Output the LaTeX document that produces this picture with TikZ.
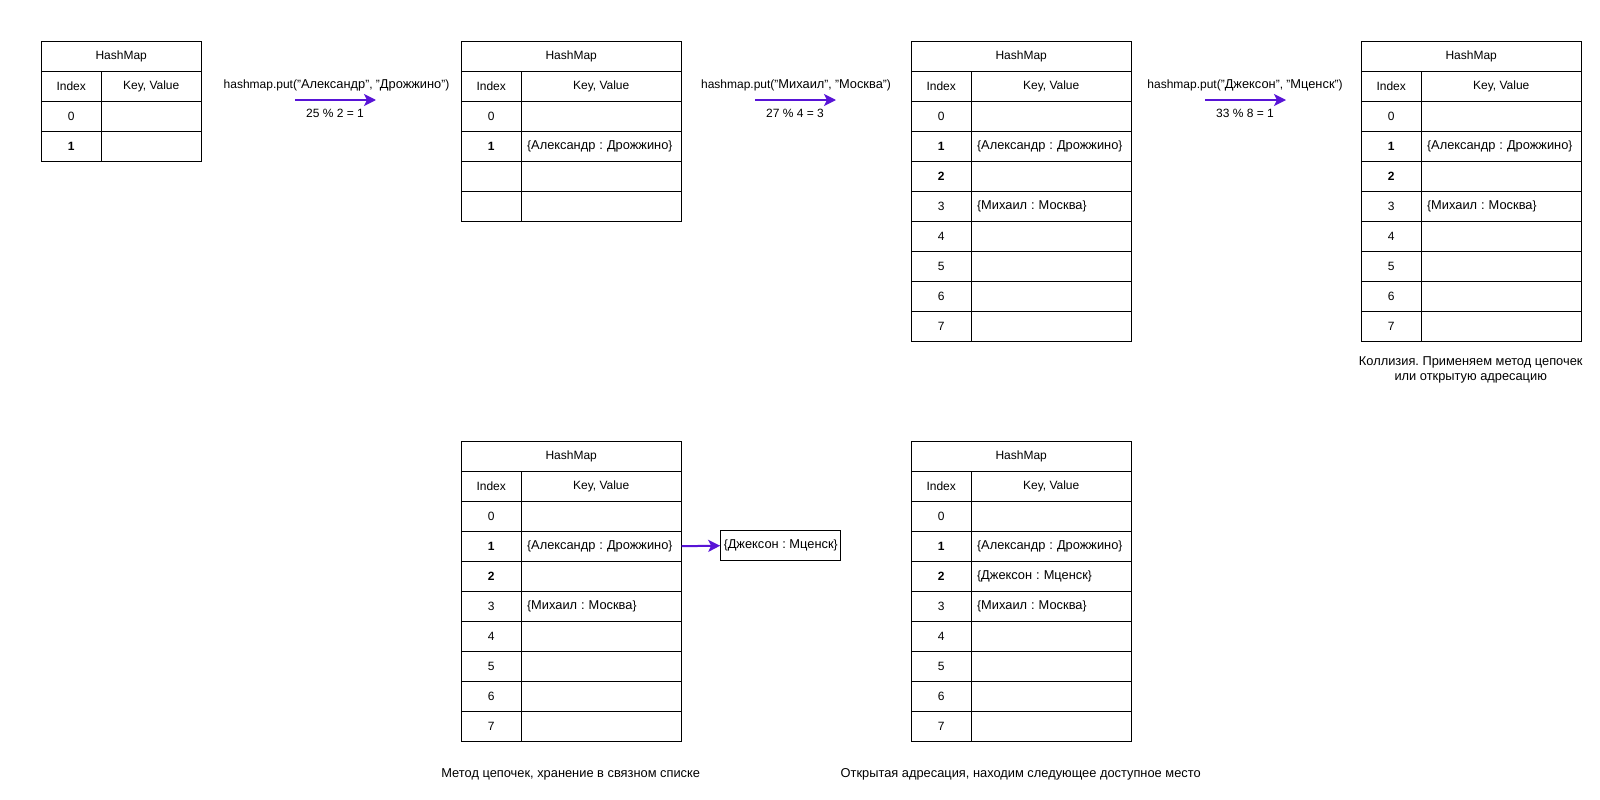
\documentclass[tikz,border=0pt]{standalone}
\usepackage{fontspec}
\setmainfont{Liberation Sans}
\newfontfamily\cyrfont{Liberation Sans}[Scale=1.07]
\newcommand\ru[1]{{\cyrfont #1}}
\usetikzlibrary{arrows.meta}

\definecolor{arrowviolet}{RGB}{88,20,214}

\tikzset{
  cell/.style={draw=black, line width=1pt, rectangle, inner sep=0pt,
    minimum height=30pt, anchor=north west, font=\fontsize{12}{14}\selectfont},
  keycell/.style={cell, align=left, inner xsep=6pt},
  arr/.style={draw=arrowviolet, line width=2pt,
    -{Stealth[length=12pt, width=12pt, inset=3pt]}},
  lbl/.style={font=\fontsize{12}{14}\selectfont, inner sep=0pt},
  listbox/.style={draw=black, line width=1pt, rectangle, inner sep=0pt,
    minimum width=120pt, minimum height=30pt, font=\fontsize{12}{14}\selectfont},
}

% #1 name, #2 left x, #3 top y, #4 width of the key column, #5 rows index/entry
\newcommand\hmtable[5]{%
  \node[cell, minimum width=60+#4] (#1-h) at (#2,#3) {HashMap};
  \node[cell, minimum width=60] (#1-ih) at (#2,#3+30) {Index};
  \node[cell, minimum width=#4] (#1-kh) at (#2+60,#3+30) {Key, Value};
  \foreach \idx/\kv [count=\r from 0] in {#5} {
    \node[cell, minimum width=60] (#1-i\r) at (#2,#3+60+30*\r) {\idx};
    \node[keycell, text width=#4-12] (#1-k\r) at (#2+60,#3+60+30*\r) {\mbox{\kv}};
  }%
}

\begin{document}
\frenchspacing
\begin{tikzpicture}[x=1pt, y=-1pt]
  \useasboundingbox (0,0) rectangle (1600,800);

  % step 1: two buckets
  \hmtable{ta}{40.7}{40.7}{100}{0/{}, \textbf{1}/{}}

  % step 2: four buckets
  \hmtable{tb}{460.7}{40.7}{160}{0/{}, \textbf{1}/{\{\ru{Александр : Дрожжино}\}}, {}/{}, {}/{}}

  % step 3: eight buckets
  \hmtable{tc}{910.7}{40.7}{160}{0/{}, \textbf{1}/{\{\ru{Александр : Дрожжино}\}},
    \textbf{2}/{}, 3/{\{\ru{Михаил : Москва}\}}, 4/{}, 5/{}, 6/{}, 7/{}}

  % step 4: collision at index 1
  \hmtable{td}{1360.7}{40.7}{160}{0/{}, \textbf{1}/{\{\ru{Александр : Дрожжино}\}},
    \textbf{2}/{}, 3/{\{\ru{Михаил : Москва}\}}, 4/{}, 5/{}, 6/{}, 7/{}}

  % separate chaining
  \hmtable{te}{460.7}{440.7}{160}{0/{}, \textbf{1}/{\{\ru{Александр : Дрожжино}\}},
    \textbf{2}/{}, 3/{\{\ru{Михаил : Москва}\}}, 4/{}, 5/{}, 6/{}, 7/{}}

  % open addressing
  \hmtable{tf}{910.7}{440.7}{160}{0/{}, \textbf{1}/{\{\ru{Александр : Дрожжино}\}},
    \textbf{2}/{\{\ru{Джексон : Мценск}\}}, 3/{\{\ru{Михаил : Москва}\}}, 4/{}, 5/{}, 6/{}, 7/{}}

  % put operations between the steps
  \coordinate (p1s) at (295,100);  \coordinate (p1e) at (376,100);
  \coordinate (p2s) at (755,100);  \coordinate (p2e) at (836,100);
  \coordinate (p3s) at (1205,100); \coordinate (p3e) at (1286,100);

  \draw[arr] (p1s) -- (p1e);
  \node[lbl] (p1t) at (336.5,85) {hashmap.put("\ru{Александр}", "\ru{Дрожжино}")};
  \node[lbl] (p1b) at (335,113) {25 \% 2 = 1};

  \draw[arr] (p2s) -- (p2e);
  \node[lbl] (p2t) at (796,85) {hashmap.put("\ru{Михаил}", "\ru{Москва}")};
  \node[lbl] (p2b) at (795,113) {27 \% 4 = 3};

  \draw[arr] (p3s) -- (p3e);
  \node[lbl] (p3t) at (1245,85) {hashmap.put("\ru{Джексон}", "\ru{Мценск}")};
  \node[lbl] (p3b) at (1245,113) {33 \% 8 = 1};

  % chained list entry
  \node[listbox] (chain) at (780.7,545.7) {\{\ru{Джексон : Мценск}\}};
  \draw[arr] (te-k1.east) -- (chain.west);

  % captions
  \node[lbl, align=center] (capd) at (1470.7,370)
    {\ru{Коллизия. Применяем метод цепочек}\\[1pt]\ru{или открытую адресацию}};
  \node[lbl] (cape) at (570.7,774.5) {\ru{Метод цепочек, хранение в связном списке}};
  \node[lbl] (capf) at (1020.7,774.5) {\ru{Открытая адресация, находим следующее доступное место}};
\end{tikzpicture}
\end{document}
